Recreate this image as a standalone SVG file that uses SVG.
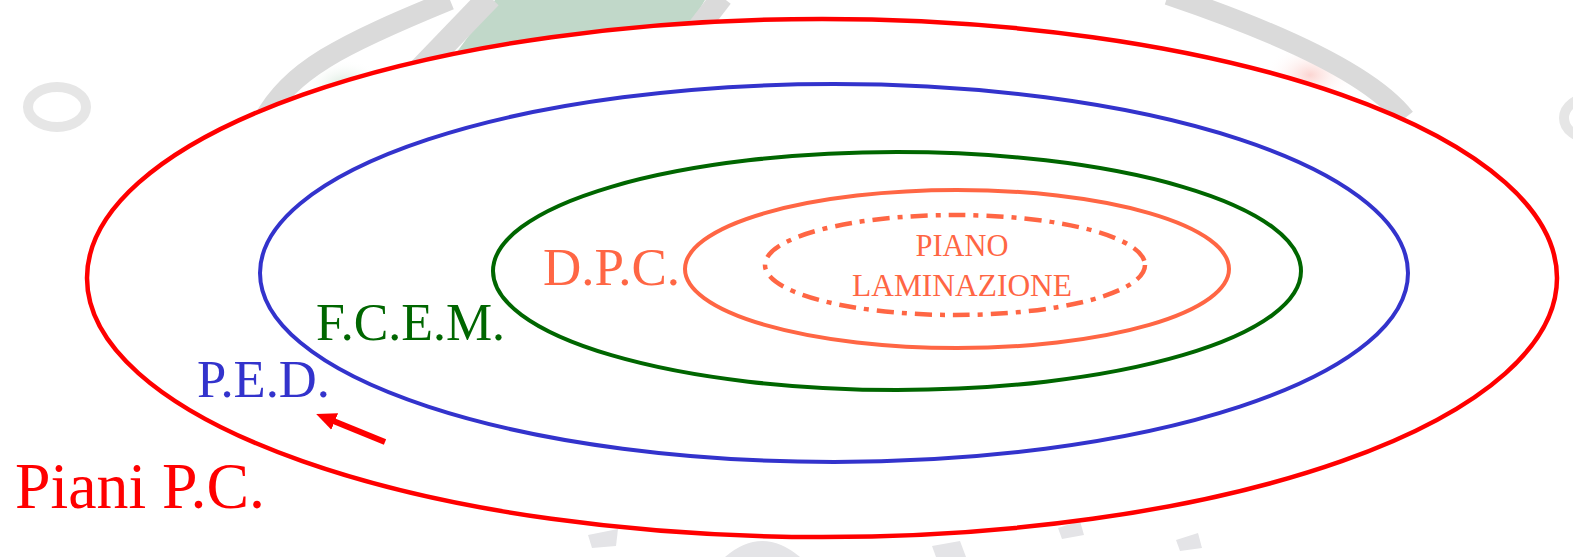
<svg xmlns="http://www.w3.org/2000/svg" width="1573" height="557" viewBox="0 0 1573 557">
<defs>
<style>
.lbl{font-family:"Liberation Serif","Times New Roman",serif}
.wm{fill:none;stroke:#dadada}
.ring{fill:none}
</style>
<radialGradient id="gGlow" cx="0.5" cy="0.5" r="0.5"><stop offset="0" stop-color="#cfe3d3" stop-opacity="0.9"/><stop offset="1" stop-color="#ffffff" stop-opacity="0"/></radialGradient>
<radialGradient id="pGlow" cx="0.5" cy="0.5" r="0.5"><stop offset="0" stop-color="#fbd0cc" stop-opacity="0.9"/><stop offset="1" stop-color="#ffffff" stop-opacity="0"/></radialGradient>
<marker id="ah" viewBox="0 0 20 18" refX="4" refY="9" markerWidth="20" markerHeight="18" orient="auto" markerUnits="userSpaceOnUse"><path d="M0,0 L20,9 L0,18 z" fill="#ff0000"/></marker>
</defs>
<rect width="1573" height="557" fill="#ffffff"/>
<g id="watermark">
<ellipse cx="57" cy="107" rx="29" ry="20" fill="none" stroke="#e6e6e6" stroke-width="10"/>
<ellipse cx="1592" cy="118" rx="28" ry="21" fill="none" stroke="#e6e6e6" stroke-width="10"/>
<polygon points="495,0 705,0 670,60 440,75" fill="#c1d8c9"/>
<ellipse cx="345" cy="85" rx="40" ry="25" fill="url(#gGlow)"/>
<ellipse cx="1310" cy="75" rx="45" ry="30" fill="url(#pGlow)"/>
<path class="wm" d="M262 122 C 290 70 340 45 450 0" stroke-width="20"/>
<path class="wm" d="M412 78 L 490 -3" stroke-width="24"/>
<path class="wm" d="M722 -3 L 685 45" stroke-width="22"/>
<path class="wm" d="M1168 -5 Q 1360 60 1405 118" stroke-width="20"/>
<path d="M588 535 L618 529 L616 546 L592 548 Z" fill="#e4e4e7"/>
<path d="M725 557 Q 762 525 800 557 Z" fill="#e4e4e7"/>
<path d="M932 546 L960 541 L966 557 L936 557 Z" fill="#e4e4e7"/>
<path d="M1058 528 L1080 521 L1084 535 L1062 539 Z" fill="#e4e4e7"/>
<path d="M1176 540 L1198 533 L1202 548 L1180 551 Z" fill="#e4e4e7"/>
</g>
<g id="piani-pc">
<ellipse cx="822" cy="278" rx="735" ry="259" fill="#ffffff" stroke="#ff0000" stroke-width="4.5"/>
<text class="lbl" x="15" y="508" font-size="65" fill="#ff0000" textLength="250" lengthAdjust="spacingAndGlyphs">Piani P.C.</text>
</g>
<g id="ped">
<ellipse cx="834" cy="273" rx="574" ry="189" class="ring" stroke="#3333cc" stroke-width="4"/>
<text class="lbl" x="197" y="397" font-size="53" fill="#3333cc" textLength="133" lengthAdjust="spacingAndGlyphs">P.E.D.</text>
</g>
<g id="fcem">
<ellipse cx="897" cy="271" rx="404" ry="119" class="ring" stroke="#006600" stroke-width="4"/>
<text class="lbl" x="316" y="340" font-size="53" fill="#006600" textLength="189" lengthAdjust="spacingAndGlyphs">F.C.E.M.</text>
</g>
<g id="dpc">
<ellipse cx="957" cy="269" rx="272" ry="79" class="ring" stroke="#ff6644" stroke-width="4"/>
<text class="lbl" x="543" y="285" font-size="53" fill="#ff6644" textLength="137" lengthAdjust="spacingAndGlyphs">D.P.C.</text>
</g>
<g id="piano-laminazione">
<ellipse cx="955" cy="265" rx="190" ry="50" class="ring" stroke="#ff6644" stroke-width="4.5" stroke-dasharray="17 8 5 8"/>
<text class="lbl" x="962" y="256" font-size="32" fill="#ff6644" text-anchor="middle" textLength="93" lengthAdjust="spacingAndGlyphs">PIANO</text>
<text class="lbl" x="962" y="296" font-size="32" fill="#ff6644" text-anchor="middle" textLength="220" lengthAdjust="spacingAndGlyphs">LAMINAZIONE</text>
</g>
<g id="connectors">
<line x1="385" y1="442" x2="331" y2="420" stroke="#ff0000" stroke-width="6" marker-end="url(#ah)"/>
</g>
</svg>
